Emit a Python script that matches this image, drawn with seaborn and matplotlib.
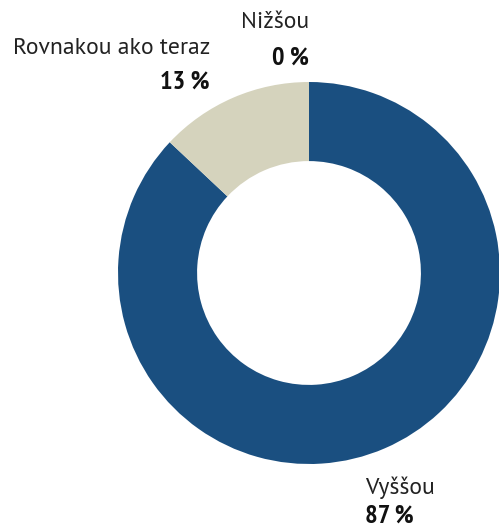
import matplotlib
matplotlib.use("Agg")
import matplotlib.pyplot as plt
import seaborn as sns

labels = ["Vyššou", "Rovnakou ako teraz", "Nižšou"]
values = [87, 13, 0]
colors = ["#1a4f80", "#d5d3bd", "#8c8c8c"]

sns.set_style("white")
plt.rcParams['font.family'] = ['PT Sans', 'DejaVu Sans']

W, H = 499, 526
fig = plt.figure(figsize=(W / 100, H / 100), dpi=100)
cx, cy, r = 309, 273, 191
ax = fig.add_axes([(cx - r) / W, (H - cy - r) / H, 2 * r / W, 2 * r / H])
ax.pie(values, colors=colors, startangle=90, counterclock=False,
       wedgeprops=dict(width=0.414, edgecolor="none"), radius=1)
ax.set_xlim(-1, 1)
ax.set_ylim(-1, 1)
ax.axis("off")


def px(x, y):
    return x / W, 1 - y / H


bold = dict(family=['PT Sans Narrow', 'DejaVu Sans'], fontweight="bold", fontsize=19, color="#111111")
reg = dict(fontsize=17, color="#222222")

# label positions (pixel anchors), one per slice
label_pos = {
    "Vyššou": ((365, 488), (365, 516), "left"),
    "Rovnakou ako teraz": ((210, 48), (210, 82), "right"),
    "Nižšou": ((309, 22), (309, 58), "right"),
}
for lab, val in zip(labels, values):
    (lx, ly), (vx, vy), ha = label_pos[lab]
    fig.text(*px(lx, ly), lab, ha=ha, va="center", **reg)
    fig.text(*px(vx, vy), f"{val} %", ha=ha, va="center", **bold)

fig.savefig("out.png", dpi=100)
